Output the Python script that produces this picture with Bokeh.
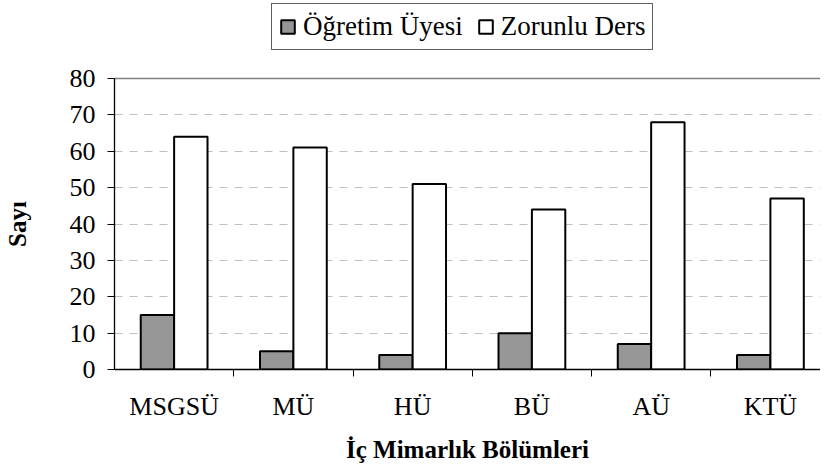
from bokeh.plotting import figure
from bokeh.layouts import column
from bokeh.models import (ColumnDataSource, Range1d, FixedTicker, LinearAxis,
                          Legend, LegendItem)
from bokeh.embed import file_html
from bokeh.resources import INLINE

categories = ["MSGSÜ", "MÜ", "HÜ", "BÜ", "AÜ", "KTÜ"]
ogretim_uyesi = [15, 5, 4, 10, 7, 4]
zorunlu_ders = [64, 61, 51, 44, 68, 47]
y_ticks = [0, 10, 20, 30, 40, 50, 60, 70, 80]
series_names = ["Öğretim Üyesi", "Zorunlu Ders"]

FONT = "Liberation Serif"
BAR_W = 0.28
GRAY = "#969696"

centers = [i + 0.5 for i in range(len(categories))]
src = ColumnDataSource(dict(
    x1=[c - BAR_W / 2 for c in centers],
    x2=[c + BAR_W / 2 for c in centers],
    ogr=ogretim_uyesi,
    zor=zorunlu_ders,
))
x_rng = Range1d(0, 5.92)
y_rng = Range1d(0, y_ticks[-1])

# ---------------- main chart ----------------
p = figure(width=820, height=406, output_backend="svg", toolbar_location=None,
           x_range=x_rng, y_range=y_rng,
           min_border_left=108, min_border_top=18, min_border_bottom=97,
           min_border_right=0, x_axis_location=None, y_axis_location=None)
p.outline_line_color = None
p.background_fill_color = "white"
p.border_fill_color = "white"

p.vbar(x="x1", top="ogr", width=BAR_W, source=src, fill_color=GRAY,
       line_color="black", line_width=2)
p.vbar(x="x2", top="zor", width=BAR_W, source=src, fill_color="white",
       line_color="black", line_width=2)

yaxis = LinearAxis(ticker=FixedTicker(ticks=y_ticks))
yaxis.axis_label = "Sayı"
yaxis.axis_label_text_font = FONT
yaxis.axis_label_text_font_style = "bold"
yaxis.axis_label_text_font_size = "25px"
yaxis.axis_label_text_color = "black"
yaxis.axis_label_standoff = 36
yaxis.major_label_text_font = FONT
yaxis.major_label_text_font_size = "26px"
yaxis.major_label_text_color = "black"
yaxis.major_label_standoff = 12
yaxis.major_tick_out = 7
yaxis.major_tick_in = 0
yaxis.minor_tick_out = 0
yaxis.minor_tick_in = 0
yaxis.axis_line_color = "black"
yaxis.axis_line_width = 1.3
yaxis.major_tick_line_color = "black"
p.add_layout(yaxis, "left")

xaxis = LinearAxis(ticker=FixedTicker(ticks=centers,
                                      minor_ticks=list(range(1, len(categories) + 1))))
xaxis.major_label_overrides = {c: name for c, name in zip(centers, categories)}
xaxis.axis_label = "İç Mimarlık Bölümleri"
xaxis.axis_label_text_font = FONT
xaxis.axis_label_text_font_style = "bold"
xaxis.axis_label_text_font_size = "25px"
xaxis.axis_label_text_color = "black"
xaxis.axis_label_standoff = 12
xaxis.major_label_text_font = FONT
xaxis.major_label_text_font_size = "26px"
xaxis.major_label_text_color = "black"
xaxis.major_label_standoff = 15
xaxis.major_tick_out = 0
xaxis.major_tick_in = 0
xaxis.minor_tick_out = 7
xaxis.minor_tick_in = 0
xaxis.minor_tick_line_color = "black"
xaxis.axis_line_color = "black"
xaxis.axis_line_width = 1.3
p.add_layout(xaxis, "below")

# grey top border of the plot area
top = LinearAxis(ticker=FixedTicker(ticks=[]))
top.major_label_text_font_size = "0px"
top.major_label_standoff = 0
top.major_tick_out = 0
top.minor_tick_out = 0
top.axis_line_color = "#808080"
top.axis_line_width = 1.3
p.add_layout(top, "above")

p.xgrid.visible = False
p.ygrid.ticker = FixedTicker(ticks=y_ticks[1:-1])
p.ygrid.grid_line_color = "#c0c0c0"
p.ygrid.grid_line_dash = "8 7"
p.ygrid.grid_line_width = 1

# ---------------- legend strip above the chart ----------------
lg = figure(width=820, height=60, output_backend="svg", toolbar_location=None,
            x_range=x_rng, y_range=y_rng,
            min_border_left=108, min_border_top=0, min_border_bottom=0,
            min_border_right=0, x_axis_location=None, y_axis_location=None)
lg.outline_line_color = None
lg.xgrid.visible = False
lg.ygrid.visible = False
l1 = lg.vbar(x="x1", top="ogr", width=BAR_W, source=src, fill_color=GRAY,
             line_color="black", line_width=2, visible=False)
l2 = lg.vbar(x="x2", top="zor", width=BAR_W, source=src, fill_color="white",
             line_color="black", line_width=2, visible=False)

legend = Legend(items=[LegendItem(label=series_names[0], renderers=[l1]),
                       LegendItem(label=series_names[1], renderers=[l2])],
                orientation="horizontal", location=(157, 10))
legend.label_text_font = FONT
legend.label_text_font_size = "27px"
legend.label_text_color = "black"
legend.glyph_width = 17
legend.glyph_height = 17
legend.label_standoff = 7
legend.spacing = 14
legend.padding = 7
legend.margin = 0
legend.label_height = 24
legend.border_line_color = "#606060"
legend.border_line_alpha = 1
legend.border_line_width = 1.3
legend.background_fill_color = "white"
legend.background_fill_alpha = 1
lg.add_layout(legend, "center")

layout = column(lg, p, spacing=0)
open("out.html", "w").write(file_html(layout, INLINE))
